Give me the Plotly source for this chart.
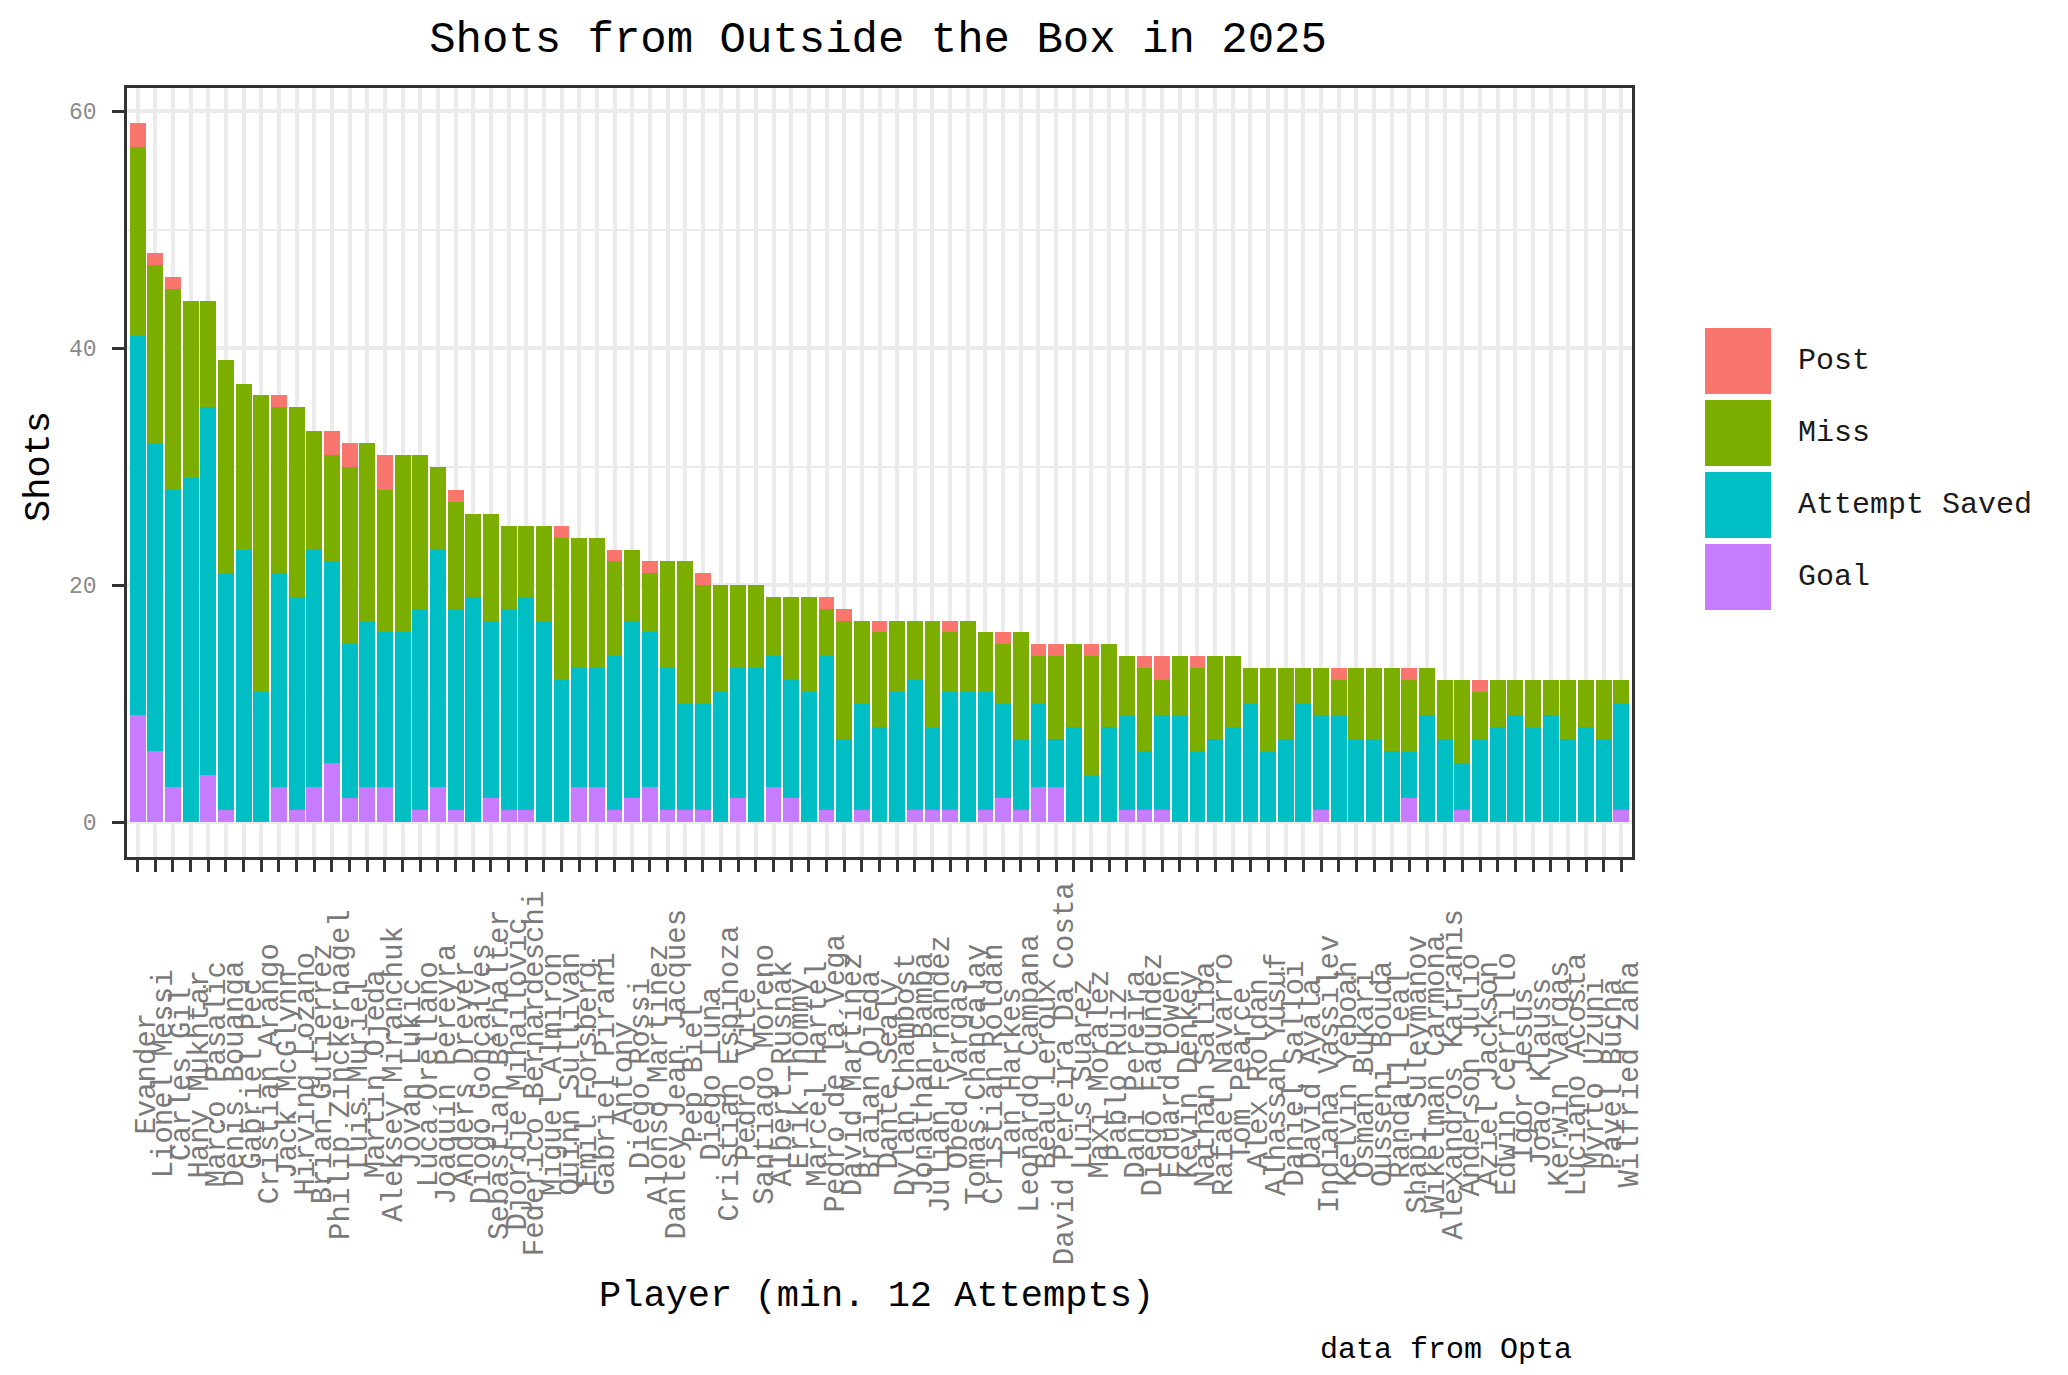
import plotly.graph_objects as go

players = [
    "Evander", "Lionel Messi", "Carles Gil", "Hany Mukhtar", "Marco Pasalic",
    "Denis Bouanga", "Gabriel Pec", "Cristian Arango", "Jack McGlynn", "Hirving Lozano",
    "Brian Gutierrez", "Philip Zinckernagel", "Luis Muriel", "Martin Ojeda", "Aleksey Miranchuk",
    "Jovan Lukic", "Luca Orellano", "Joaquín Pereyra", "Anders Dreyer", "Diogo Gonçalves",
    "Sebastian Berhalter", "Djordje Mihailovic", "Federico Bernardeschi", "Miguel Almiron", "Quinn Sullivan",
    "Emil Forsberg", "Gabriel Pirani", "Antony", "Diego Rossi", "Alonso Martinez",
    "Danley Jean Jacques", "Pep Biel", "Diego Luna", "Cristian Espinoza", "Pedro Vite",
    "Santiago Moreno", "Albert Rusnák", "Erik Thommy", "Marcel Hartel", "Pedro de la Vega",
    "David Martínez", "Braian Ojeda", "Dante Sealy", "Dylan Chambost", "Jonathan Bamba",
    "Julian Fernandez", "Obed Vargas", "Tomas Chancalay", "Cristian Roldan", "Ian Harkes",
    "Leonardo Campana", "Beau Leroux", "David Pereira Da Costa", "Luis Suarez", "Maxi Moralez",
    "Pablo Ruiz", "Dani Pereira", "Diego Fagúndez", "Eduard Löwen", "Kevin Denkey",
    "Nathan Saliba", "Rafael Navarro", "Tom Pearce", "Alex Roldan", "Alhassan Yusuf",
    "Daniel Sallói", "David Ayala", "Indiana Vassilev", "Kelvin Yeboah", "Osman Bukari",
    "Ousseni Bouda", "Randall Leal", "Shapi Suleymanov", "Wikelman Carmona", "Alexandros Katranis",
    "Anderson Julio", "Aziel Jackson", "Edwin Cerrillo", "Igor Jesus", "João Klauss",
    "Kerwin Vargas", "Luciano Acosta", "Myrto Uzuni", "Pavel Bucha", "Wilfried Zaha",
]

goal = [
    9, 6, 3, 0, 4, 1, 0, 0, 3, 1,
    3, 5, 2, 3, 3, 0, 1, 3, 1, 0,
    2, 1, 1, 0, 0, 3, 3, 1, 2, 3,
    1, 1, 1, 0, 2, 0, 3, 2, 0, 1,
    0, 1, 0, 0, 1, 1, 1, 0, 1, 2,
    1, 3, 3, 0, 0, 0, 1, 1, 1, 0,
    0, 0, 0, 0, 0, 0, 0, 1, 0, 0,
    0, 0, 2, 0, 0, 1, 0, 0, 0, 0,
    0, 0, 0, 0, 1,
]
saved = [
    32, 26, 25, 29, 31, 20, 23, 11, 18, 18,
    20, 17, 13, 14, 13, 16, 17, 20, 17, 19,
    15, 17, 18, 17, 12, 10, 10, 13, 15, 13,
    12, 9, 9, 11, 11, 13, 11, 10, 11, 13,
    7, 9, 8, 11, 11, 7, 10, 11, 10, 8,
    6, 7, 4, 8, 4, 8, 8, 5, 8, 9,
    6, 7, 8, 10, 6, 7, 10, 8, 9, 7,
    7, 6, 4, 9, 7, 4, 7, 8, 9, 8,
    9, 7, 8, 7, 9,
]
miss = [
    16, 15, 17, 15, 9, 18, 14, 25, 14, 16,
    10, 9, 15, 15, 12, 15, 13, 7, 9, 7,
    9, 7, 6, 8, 12, 11, 11, 8, 6, 5,
    9, 12, 10, 9, 7, 7, 5, 7, 8, 4,
    10, 7, 8, 6, 5, 9, 5, 6, 5, 5,
    9, 4, 7, 7, 10, 7, 5, 7, 3, 5,
    7, 7, 6, 3, 7, 6, 3, 4, 3, 6,
    6, 7, 6, 4, 5, 7, 4, 4, 3, 4,
    3, 5, 4, 5, 2,
]
post = [
    2, 1, 1, 0, 0, 0, 0, 0, 1, 0,
    0, 2, 2, 0, 3, 0, 0, 0, 1, 0,
    0, 0, 0, 0, 1, 0, 0, 1, 0, 1,
    0, 0, 1, 0, 0, 0, 0, 0, 0, 1,
    1, 0, 1, 0, 0, 0, 1, 0, 0, 1,
    0, 1, 1, 0, 1, 0, 0, 1, 2, 0,
    1, 0, 0, 0, 0, 0, 0, 0, 1, 0,
    0, 0, 1, 0, 0, 0, 1, 0, 0, 0,
    0, 0, 0, 0, 0,
]

outcomes_stack = ["Goal", "Attempt Saved", "Miss", "Post"]   # bottom -> top
legend_order = ["Post", "Miss", "Attempt Saved", "Goal"]
colors = {"Post": "#F8766D", "Miss": "#7CAE00", "Attempt Saved": "#00BFC4", "Goal": "#C77CFF"}
values = {"Goal": goal, "Attempt Saved": saved, "Miss": miss, "Post": post}

title_text = "Shots from Outside the Box in 2025"
x_title = "Player (min. 12 Attempts)"
y_title = "Shots"
caption = "data from Opta"
y_ticks = [0, 20, 40, 60]
y_minor = [10, 30, 50]

W, H = 2068, 1375
L, R, T, B = 119, 1624, 80, 849  # panel box in pixels
FONT = "Courier New, Courier, Nimbus Mono PS, Liberation Mono, monospace"


def px_x(px):
    return (px - L) / (R - L)


def px_y(py):
    return (B - py) / (B - T)


fig = go.Figure()
for o in outcomes_stack:
    fig.add_trace(go.Bar(
        x=players, y=values[o], name=o,
        marker=dict(color=colors[o], line=dict(width=0)),
        showlegend=False,
    ))

annotations = []
# rotated category labels, centred like ggplot's default
for p in players:
    annotations.append(dict(
        x=p, xref="x", y=px_y(1066), yref="paper",
        text=p, textangle=-90, showarrow=False,
        xanchor="center", yanchor="middle", xshift=9,
        font=dict(family=FONT, size=29, color="#7a7a7a"),
    ))

annotations.append(dict(
    x=px_x(868), xref="paper", y=px_y(1288), yref="paper",
    text=x_title, showarrow=False, xanchor="center", yanchor="middle",
    font=dict(family=FONT, size=37, color="#000000"),
))
annotations.append(dict(
    x=px_x(31), xref="paper", y=px_y(459), yref="paper",
    text=y_title, textangle=-90, showarrow=False, xanchor="center", yanchor="middle",
    font=dict(family=FONT, size=37, color="#000000"),
))
annotations.append(dict(
    x=px_x(1566), xref="paper", y=px_y(1342), yref="paper",
    text=caption, showarrow=False, xanchor="right", yanchor="middle",
    font=dict(family=FONT, size=30, color="#000000"),
))

# manual legend with large keys (ggplot-style)
shapes = []
key_left, key_size, key_top0, key_step = 1697, 66, 320, 72
for i, o in enumerate(legend_order):
    top = key_top0 + i * key_step
    shapes.append(dict(
        type="rect", xref="paper", yref="paper",
        x0=px_x(key_left), x1=px_x(key_left + key_size),
        y0=px_y(top + key_size), y1=px_y(top),
        fillcolor=colors[o], line=dict(width=0),
    ))
    annotations.append(dict(
        x=px_x(1788), xref="paper", y=px_y(top + key_size / 2), yref="paper",
        text=o, showarrow=False, xanchor="left", yanchor="middle",
        font=dict(family=FONT, size=30, color="#1a1a1a"),
    ))

fig.update_layout(
    width=W, height=H, autosize=False,
    barmode="stack", bargap=0.1,
    margin=dict(l=L, r=W - R, t=T, b=H - B, pad=0),
    plot_bgcolor="#ffffff", paper_bgcolor="#ffffff",
    title=dict(
        text=title_text, x=px_x(870), xref="paper", xanchor="center",
        y=1 - 29 / H, yref="container", yanchor="middle",
        font=dict(family=FONT, size=44, color="#000000"),
    ),
    font=dict(family=FONT),
    annotations=annotations,
    shapes=shapes,
    showlegend=False,
    xaxis=dict(
        type="category", categoryorder="array", categoryarray=players,
        range=[-0.6, len(players) - 1 + 0.6],
        showgrid=True, gridcolor="#EBEBEB", gridwidth=3.5,
        ticks="outside", ticklen=12, tickwidth=3, tickcolor="#333333",
        showticklabels=False,
        showline=True, mirror=True, linecolor="#333333", linewidth=2.5,
        zeroline=False,
    ),
    yaxis=dict(
        range=[-2.95, 61.95],
        tickmode="array", tickvals=y_ticks,
        showgrid=True, gridcolor="#EBEBEB", gridwidth=3.5,
        minor=dict(tickmode="array", tickvals=y_minor, showgrid=True,
                   gridcolor="#EBEBEB", gridwidth=2, ticks=""),
        ticks="outside", ticklen=12, tickwidth=3, tickcolor="#333333",
        tickfont=dict(family=FONT, size=23, color="#8a8a8a"),
        ticklabelstandoff=11,
        showline=True, mirror=True, linecolor="#333333", linewidth=2.5,
        zeroline=False,
    ),
)

fig.write_html("out.html")
